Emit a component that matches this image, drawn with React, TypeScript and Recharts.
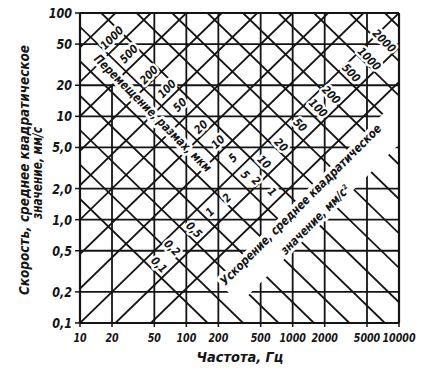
import React from "react";
import { ScatterChart, XAxis, YAxis, ReferenceLine, ReferenceDot } from "recharts";

const INK = "#141414";
const FONT = "'DejaVu Sans', 'Liberation Sans', sans-serif";

const FREQ_TICKS = [10, 20, 50, 100, 200, 500, 1000, 2000, 5000, 10000];
const FREQ_LABELS = ["10", "20", "50", "100", "200", "500", "1000", "2000", "5000", "10000"];
const VEL_TICKS = [0.1, 0.2, 0.5, 1, 2, 5, 10, 20, 50, 100];
const VEL_LABELS = ["0,1", "0,2", "0,5", "1,0", "2,0", "5,0", "10", "20", "50", "100"];

// vertical grid lines: [freq, v from, v to]
const VERT_GRID = [
  [20, 0.1, 20],
  [50, 0.1, 100],
  [100, 0.1, 100],
  [200, 0.1, 100],
  [500, 0.1, 100],
  [1000, 0.1, 100],
  [2000, 0.1, 100],
  [5000, 0.1, 100],
];
// horizontal grid lines: [velocity, f from, f to]
const HORIZ_GRID = [
  [0.2, 10, 10000],
  [0.5, 10, 10000],
  [1, 10, 10000],
  [2, 10, 10000],
  [5, 10, 10000],
  [10, 10, 10000],
  [20, 10, 10000],
  [50, 10, 10000],
];

// displacement lines, rising: [f1, v1, f2, v2]
const DISP_LINES = [
  [46.42, 0.1, 10000, 21.54],
  [21.54, 0.1, 10000, 46.42],
  [10, 0.1, 10000, 100],
  [10, 0.2154, 4642, 100],
  [10, 0.4642, 2154, 100],
  [10, 1, 1000, 100],
  [10, 2.154, 464.2, 100],
  [10, 4.642, 215.4, 100],
  [10, 10, 100, 100],
  [10, 21.54, 46.42, 100],
  [10, 46.42, 21.54, 100],
];

// acceleration lines, falling: [f1, v1, f2, v2]
const ACC_LINES = [
  [10, 1.585, 158.5, 0.1],
  [10, 3.415, 341.5, 0.1],
  [10, 7.356, 735.6, 0.1],
  [10, 15.85, 1585, 0.1],
  [10, 34.15, 3415, 0.1],
  [10, 73.56, 7356, 0.1],
  [15.85, 100, 10000, 0.1585],
  [34.15, 100, 10000, 0.3415],
  [73.56, 100, 10000, 0.7356],
  [158.5, 100, 10000, 1.585],
  [341.5, 100, 10000, 3.415],
  [735.6, 100, 10000, 7.356],
  [1585, 100, 10000, 15.85],
  [3415, 100, 10000, 34.15],
  [7356, 100, 10000, 73.56],
];

// labels on the lines: [text, f, v, angle]
const DISP_LABELS: [string, number, number, number][] = [
  ["1000", 20.0, 57.3, -45],
  ["500", 28.9, 40.1, -45],
  ["200", 44.6, 25.1, -45],
  ["100", 65.8, 18.4, -45],
  ["50", 87.2, 12.9, -45],
  ["20", 137.4, 7.88, -45],
  ["10", 198.6, 5.64, -45],
  ["5", 274.8, 3.95, -45],
  ["2", 241.3, 1.62, -45],
  ["1", 167, 1.186, -45],
  ["0,5", 118, 0.794, 45],
  ["0,2", 73.3, 0.532, 45],
  ["0,1", 55.3, 0.364, 45],
];
const ACC_LABELS: [string, number, number, number][] = [
  ["2000", 7228, 53.6, 45],
  ["1000", 5224, 35.9, 45],
  ["500", 3540, 26.2, 45],
  ["200", 2294, 16.1, 45],
  ["100", 1730, 12.0, 45],
  ["50", 1172, 8.24, 45],
  ["20", 776, 5.28, 45],
  ["10", 538, 3.61, 45],
  ["5", 356, 2.71, 45],
  ["2", 452, 2.37, 45],
  ["1", 639, 1.85, 45],
];

// white strip behind the acceleration caption
const ACC_BAND = [
  [246.6, 0.1995],
  [15760, 14.39],
];

const DISP_TITLE = { text: "Перемещение, размах, мкм", f: 48.6, v: 10.77, angle: 45, len: 160 };
const ACC_TITLE_1 = { text: "Ускорение, среднее квадратическое", f: 1185, v: 1.402, angle: -45, len: 222 };
const ACC_TITLE_2 = { text: "значение, мм/с²", f: 1622, v: 1.0035, angle: -45, len: 92 };

function DiagText({ cx, cy, text, angle, size = 11.5, squeeze = 0.85, halo = 5, len }: any) {
  return (
    <g transform={`translate(${cx},${cy}) rotate(${angle})`}>
      <text
        transform={`scale(${squeeze},1)`}
        textAnchor="middle"
        dominantBaseline="central"
        fontFamily={FONT}
        fontStyle="italic"
        fontWeight="bold"
        fontSize={size}
        fill={INK}
        stroke="#fff"
        strokeWidth={halo}
        strokeLinejoin="round"
        paintOrder="stroke"
        textLength={len}
        lengthAdjust={len ? "spacingAndGlyphs" : undefined}
      >
        {text}
      </text>
    </g>
  );
}

const findIdx = (ticks: number[], v: number) =>
  ticks.findIndex((t) => Math.abs(t - v) / t < 1e-6);

const XTick = (props: any) => {
  const { x, y, payload } = props;
  const i = findIdx(FREQ_TICKS, payload.value);
  return (
    <g transform={`translate(${x},${y})`}>
      <text
        transform="scale(0.73,1)"
        textAnchor="middle"
        dy="0.71em"
        fontFamily={FONT}
        fontStyle="italic"
        fontWeight="bold"
        fontSize={13}
        fill={INK}
      >
        {FREQ_LABELS[i]}
      </text>
    </g>
  );
};

const YTick = (props: any) => {
  const { x, y, payload } = props;
  const i = findIdx(VEL_TICKS, payload.value);
  return (
    <g transform={`translate(${x},${y})`}>
      <text
        transform="scale(0.8,1)"
        textAnchor="end"
        dy="0.36em"
        fontFamily={FONT}
        fontStyle="italic"
        fontWeight="bold"
        fontSize={14}
        fill={INK}
      >
        {VEL_LABELS[i]}
      </text>
    </g>
  );
};

const titleStyle = {
  fontFamily: FONT,
  fontStyle: "italic",
  fontWeight: "bold",
  fontSize: 13.5,
  fill: INK,
} as const;

const XTitle = () => (
  <text x={240} y={362} textAnchor="middle" textLength={87} lengthAdjust="spacingAndGlyphs" style={titleStyle}>
    Частота, Гц
  </text>
);

const YTitle = () => (
  <g>
    <text
      transform="translate(29,170) rotate(-90)"
      textAnchor="middle"
      textLength={250}
      lengthAdjust="spacingAndGlyphs"
      style={titleStyle}
    >
      Скорость, среднее квадратическое
    </text>
    <text
      transform="translate(42,173) rotate(-90)"
      textAnchor="middle"
      textLength={92}
      lengthAdjust="spacingAndGlyphs"
      style={titleStyle}
    >
      значение, мм/с
    </text>
  </g>
);

export default function App() {
  const lw = 1.8;
  return (
    <div style={{ margin: -8, width: 424, height: 372, background: "#fff" }}>
      <ScatterChart width={424} height={372} margin={{ top: 13, right: 25, bottom: 0, left: 0 }}>
        <XAxis
          type="number"
          dataKey="f"
          scale="log"
          domain={[10, 10000]}
          ticks={FREQ_TICKS}
          interval={0}
          allowDataOverflow
          height={49}
          axisLine={false}
          tickLine={{ stroke: INK, strokeWidth: 1.5 }}
          tickSize={4}
          tickMargin={6}
          tick={XTick}
          label={XTitle}
        />
        <YAxis
          type="number"
          dataKey="v"
          scale="log"
          domain={[0.1, 100]}
          ticks={VEL_TICKS}
          interval={0}
          allowDataOverflow
          width={80}
          axisLine={false}
          tickLine={{ stroke: INK, strokeWidth: 1.5 }}
          tickSize={5}
          tickMargin={3}
          tick={YTick}
          label={YTitle}
        />

        {VERT_GRID.map(([f, v1, v2]) => (
          <ReferenceLine key={`vg${f}`} segment={[{ x: f, y: v1 }, { x: f, y: v2 }]} stroke={INK} strokeWidth={lw} ifOverflow="hidden" />
        ))}
        {HORIZ_GRID.map(([v, f1, f2]) => (
          <ReferenceLine key={`hg${v}`} segment={[{ x: f1, y: v }, { x: f2, y: v }]} stroke={INK} strokeWidth={lw} ifOverflow="hidden" />
        ))}
        {DISP_LINES.map(([f1, v1, f2, v2], i) => (
          <ReferenceLine key={`d${i}`} segment={[{ x: f1, y: v1 }, { x: f2, y: v2 }]} stroke={INK} strokeWidth={lw} ifOverflow="hidden" />
        ))}
        {ACC_LINES.map(([f1, v1, f2, v2], i) => (
          <ReferenceLine key={`a${i}`} segment={[{ x: f1, y: v1 }, { x: f2, y: v2 }]} stroke={INK} strokeWidth={lw} ifOverflow="hidden" />
        ))}

        <ReferenceLine
          segment={[{ x: ACC_BAND[0][0], y: ACC_BAND[0][1] }, { x: ACC_BAND[1][0], y: ACC_BAND[1][1] }]}
          stroke="#fff"
          strokeWidth={33}
          ifOverflow="hidden"
        />

        <ReferenceLine x={10} stroke={INK} strokeWidth={2.2} />
        <ReferenceLine x={10000} stroke={INK} strokeWidth={2.2} />
        <ReferenceLine y={0.1} stroke={INK} strokeWidth={2.2} />
        <ReferenceLine y={100} stroke={INK} strokeWidth={2.2} />

        {[...DISP_LABELS, ...ACC_LABELS].map(([t, f, v, a], i) => (
          <ReferenceDot
            key={`l${i}`}
            x={f}
            y={v}
            r={0}
            ifOverflow="visible"
            shape={(p: any) => <DiagText cx={p.cx} cy={p.cy} text={t} angle={a} />}
          />
        ))}
        {[DISP_TITLE, ACC_TITLE_1, ACC_TITLE_2].map((t, i) => (
          <ReferenceDot
            key={`t${i}`}
            x={t.f}
            y={t.v}
            r={0}
            ifOverflow="visible"
            shape={(p: any) => (
              <DiagText cx={p.cx} cy={p.cy} text={t.text} angle={t.angle} size={12.5} squeeze={1} halo={6} len={t.len} />
            )}
          />
        ))}
      </ScatterChart>
    </div>
  );
}
